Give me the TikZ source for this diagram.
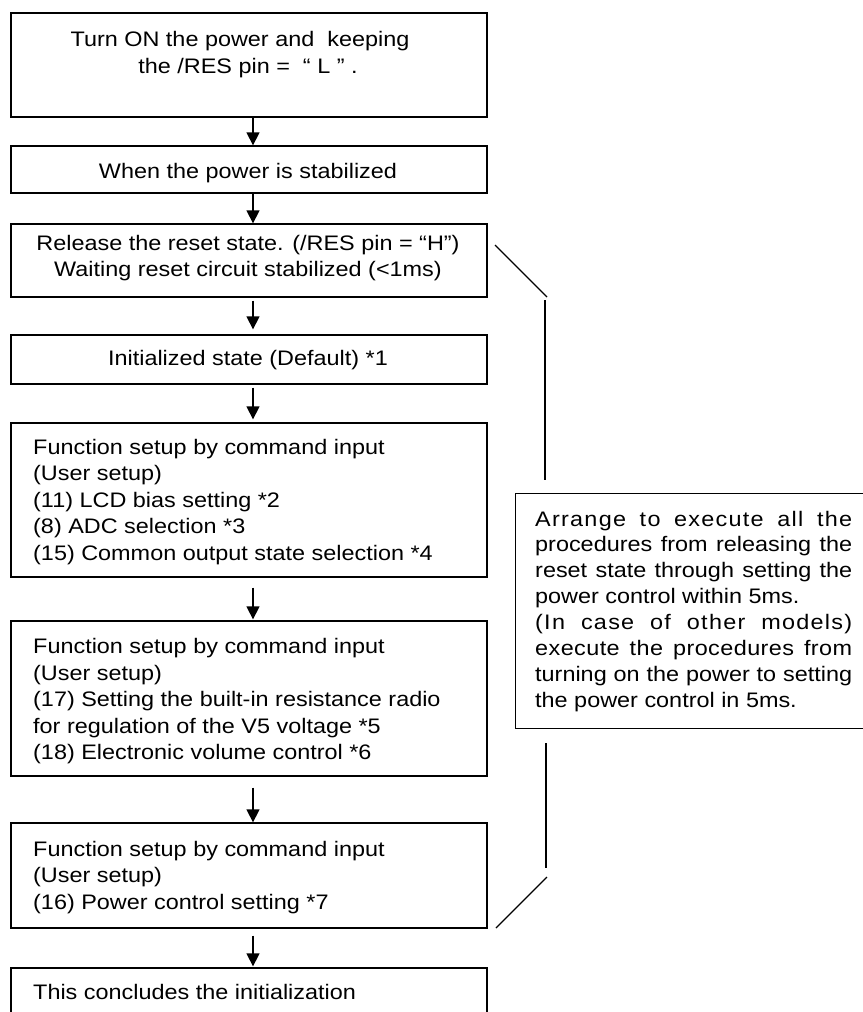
\documentclass[tikz,border=0pt]{standalone}
\usepackage{fontspec}
\setmainfont{Liberation Sans}[FakeStretch=1.115]
\usetikzlibrary{arrows.meta}
\begin{document}
\begin{tikzpicture}[x=1bp,y=-1bp,
  box/.style={draw, line width=1.3bp, inner sep=0pt, minimum width=476bp},
  txt/.style={inner sep=0pt, font=\fontsize{21bp}{26.5bp}\selectfont},
  arr/.style={line width=1.3bp, -{Triangle[length=13bp,width=13bp]}},
  brk/.style={line width=1.2bp}]
\useasboundingbox (0,0) rectangle (863,1012);
\clip (0,0) rectangle (863,1012);

% boxes
\node[box, minimum height=104bp] (b1) at (249,65) {};
\node[box, minimum height=47bp]  (b2) at (249,169.5) {};
\node[box, minimum height=73bp]  (b3) at (249,260.5) {};
\node[box, minimum height=49bp]  (b4) at (249,359.5) {};
\node[box, minimum height=154bp] (b5) at (249,500) {};
\node[box, minimum height=155bp] (b6) at (249,698.5) {};
\node[box, minimum height=105bp] (b7) at (249,875.5) {};
\node[box, minimum height=62bp]  (b8) at (249,999) {};
\node[box, minimum width=370bp, minimum height=235bp, anchor=north west] (note) at (515,493) {};

% texts
\node[txt, anchor=north, align=center] (t1) at (248,28.15)
  {\strut Turn ON the power and\ \ keeping\hspace*{16bp}\\the /RES pin =\ \ “ L ” .};
\node[txt, anchor=north, align=center] (t2) at (248,159.75)
  {\strut When the power is stabilized};
\node[txt, anchor=north, align=center] (t3) at (248,231.45)
  {\strut Release the reset state. (/RES pin = “H”)\\Waiting reset circuit stabilized (<1ms)};
\node[txt, anchor=north, align=center] (t4) at (248,347.15)
  {\strut Initialized state (Default) *1};
\node[txt, anchor=north west, align=left] (t5) at (33,435.45)
  {\strut Function setup by command input\\(User setup)\\(11) LCD bias setting *2\\(8) ADC selection *3\\(15) Common output state selection *4};
\node[txt, anchor=north west, align=left] (t6) at (33,634.75)
  {\strut Function setup by command input\\(User setup)\\(17) Setting the built-in resistance radio\\for regulation of the V5 voltage *5\\(18) Electronic volume control *6};
\node[txt, anchor=north west, align=left] (t7) at (33,837.45)
  {\strut Function setup by command input\\(User setup)\\(16) Power control setting *7};
\node[txt, anchor=north west, align=left] (t8) at (33,980.45)
  {\strut This concludes the initialization};
\node[inner sep=0pt, anchor=north west, text width=317bp, align=justify,
      font=\fontsize{21bp}{25.9bp}\selectfont] (tn) at (535,507.67)
  {\parindent=0pt\parskip=0pt\strut{\addfontfeature{LetterSpace=6}Arrange to execute all the}\linebreak
   procedures from releasing the\linebreak
   reset state through setting the\linebreak
   power control within 5ms.\par
   {\addfontfeature{LetterSpace=6}(In case of other models)}\linebreak
   {\addfontfeature{LetterSpace=2}execute the procedures from}\linebreak
   turning on the power to setting\linebreak
   the power control in 5ms.\par};

% arrows
\draw[arr] ([xshift=4bp]b1.south) -- ([xshift=4bp]b2.north);
\draw[arr] ([xshift=4bp]b2.south) -- ([xshift=4bp]b3.north);
\draw[arr, shorten <=3bp, shorten >=5bp] ([xshift=4bp]b3.south) -- ([xshift=4bp]b4.north);
\draw[arr, shorten <=3bp, shorten >=3bp] ([xshift=4bp]b4.south) -- ([xshift=4bp]b5.north);
\draw[arr, shorten <=10bp, shorten >=1bp] ([xshift=4bp]b5.south) -- ([xshift=4bp]b6.north);
\draw[arr, shorten <=11bp] ([xshift=4bp]b6.south) -- ([xshift=4bp]b7.north);
\draw[arr, shorten <=7bp, shorten >=1bp] ([xshift=4bp]b7.south) -- ([xshift=4bp]b8.north);

% bracket
\coordinate (k1) at (495,245);
\coordinate (k2) at (547,297);
\coordinate (k3) at (545,300);
\coordinate (k4) at (545,480);
\coordinate (k5) at (546,743);
\coordinate (k6) at (546,868);
\coordinate (k7) at (547,877);
\coordinate (k8) at (496,928);
\draw[brk] (k1) -- (k2);
\draw[brk] (k3) -- (k4);
\draw[brk] (k5) -- (k6);
\draw[brk] (k7) -- (k8);
\end{tikzpicture}
\end{document}
